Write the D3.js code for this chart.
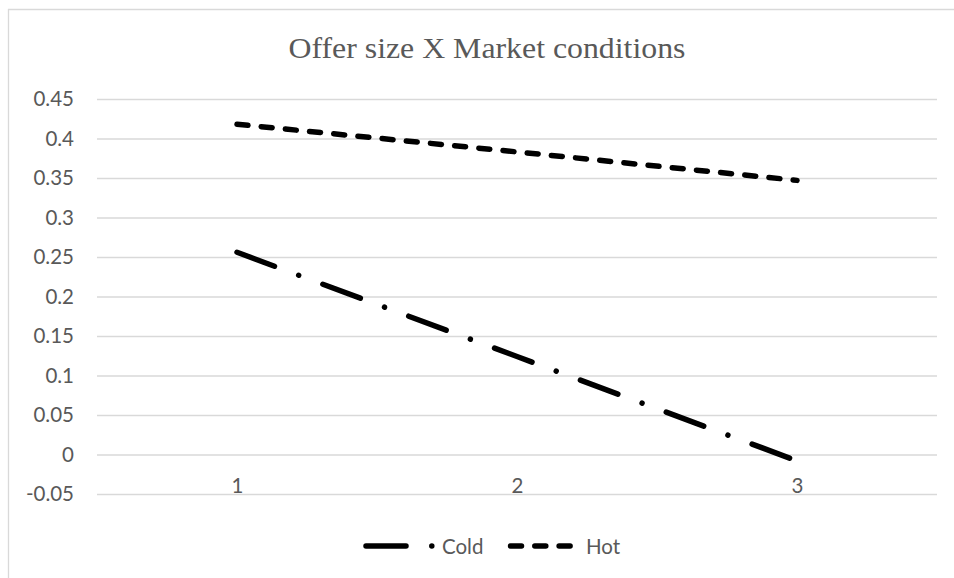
<!DOCTYPE html>
<html>
<head>
<meta charset="utf-8">
<script src="https://cdn.jsdelivr.net/npm/d3@7"></script>
<style>
  html, body { margin: 0; padding: 0; background: #fff; }
  svg { display: block; }
</style>
</head>
<body>
<svg id="chart" width="954" height="578"></svg>
<script>
// Offer size X Market conditions — interaction plot
const categories = ["1", "2", "3"];
const coldValues = [0.256, 0.124, -0.008];
const hotValues = [0.418, 0.383, 0.347];
const yTicks = [-0.05, 0, 0.05, 0.1, 0.15, 0.2, 0.25, 0.3, 0.35, 0.4, 0.45];
const seriesNames = ["Cold", "Hot"];

const W = 954, H = 578;
const plot = { left: 97, right: 937, top: 99, bottom: 494 };
const textColor = "#595959";
const gridColor = "#d9d9d9";
const labelFont = "Lato, 'Open Sans', sans-serif";
const labelSize = 20.5;

const svg = d3.select("#chart");

// chart area frame (left and top edges visible)
svg.append("line").attr("x1", 8.5).attr("x2", 8.5).attr("y1", 9).attr("y2", H)
  .attr("stroke", gridColor).attr("stroke-width", 1.3);
svg.append("line").attr("x1", 8).attr("x2", W).attr("y1", 9.5).attr("y2", 9.5)
  .attr("stroke", gridColor).attr("stroke-width", 1.3);

const x = d3.scalePoint().domain(categories).range([plot.left, plot.right]).padding(0.5);
const y = d3.scaleLinear().domain([-0.05, 0.45]).range([plot.bottom, plot.top]);

// title
svg.append("text")
  .attr("x", (plot.left + plot.right) / 2 - 30)
  .attr("y", 58)
  .attr("text-anchor", "middle")
  .attr("font-family", "'Liberation Serif', 'Times New Roman', serif")
  .attr("font-size", 29)
  .attr("fill", textColor)
  .attr("textLength", 397)
  .attr("lengthAdjust", "spacingAndGlyphs")
  .text("Offer size X Market conditions");

// horizontal gridlines + y tick labels
const yAxis = d3.axisLeft(y).tickValues(yTicks)
  .tickSize(-(plot.right - plot.left))
  .tickPadding(23)
  .tickFormat(d => String(+d.toFixed(2)));

const gy = svg.append("g").attr("transform", `translate(${plot.left},0)`).call(yAxis);
gy.select(".domain").remove();
gy.selectAll(".tick line").attr("stroke", gridColor).attr("stroke-width", 1.33);
gy.selectAll(".tick text")
  .attr("fill", textColor)
  .attr("font-family", labelFont)
  .attr("font-size", labelSize);

// category labels below the zero line
const xAxis = d3.axisBottom(x).tickSize(0).tickPadding(0);
const gx = svg.append("g").attr("transform", `translate(0,${y(0)})`).call(xAxis);
gx.select(".domain").remove();
gx.selectAll(".tick text")
  .attr("dy", null)
  .attr("y", 38.5)
  .attr("fill", textColor)
  .attr("font-family", labelFont)
  .attr("font-size", labelSize);

// series lines
const styles = {
  Cold: { dash: "40,25.8,0.01,25.8" },
  Hot: { dash: "11,13.3" }
};
const lineGen = d3.line().x((d, i) => x(categories[i])).y(d => y(d));
const series = [
  { name: "Cold", values: coldValues },
  { name: "Hot", values: hotValues }
];

svg.append("g").selectAll("path").data(series).join("path")
  .attr("d", d => lineGen(d.values))
  .attr("fill", "none")
  .attr("stroke", "#000")
  .attr("stroke-width", 5.5)
  .attr("stroke-linecap", "round")
  .attr("stroke-linejoin", "round")
  .attr("stroke-dasharray", d => styles[d.name].dash);

// legend
const legendY = 546;
const legendItems = [
  { name: seriesNames[0], x1: 366, x2: 434, tx: 442 },
  { name: seriesNames[1], x1: 510.5, x2: 570.5, tx: 586 }
];
const lg = svg.append("g");
legendItems.forEach(it => {
  lg.append("line")
    .attr("x1", it.x1).attr("x2", it.x2)
    .attr("y1", legendY).attr("y2", legendY)
    .attr("stroke", "#000").attr("stroke-width", 5.5)
    .attr("stroke-linecap", "round")
    .attr("stroke-dasharray", styles[it.name].dash);
  lg.append("text")
    .attr("x", it.tx).attr("y", legendY + 7.5)
    .attr("fill", textColor)
    .attr("font-family", labelFont)
    .attr("font-size", labelSize)
    .text(it.name);
});
</script>
</body>
</html>
